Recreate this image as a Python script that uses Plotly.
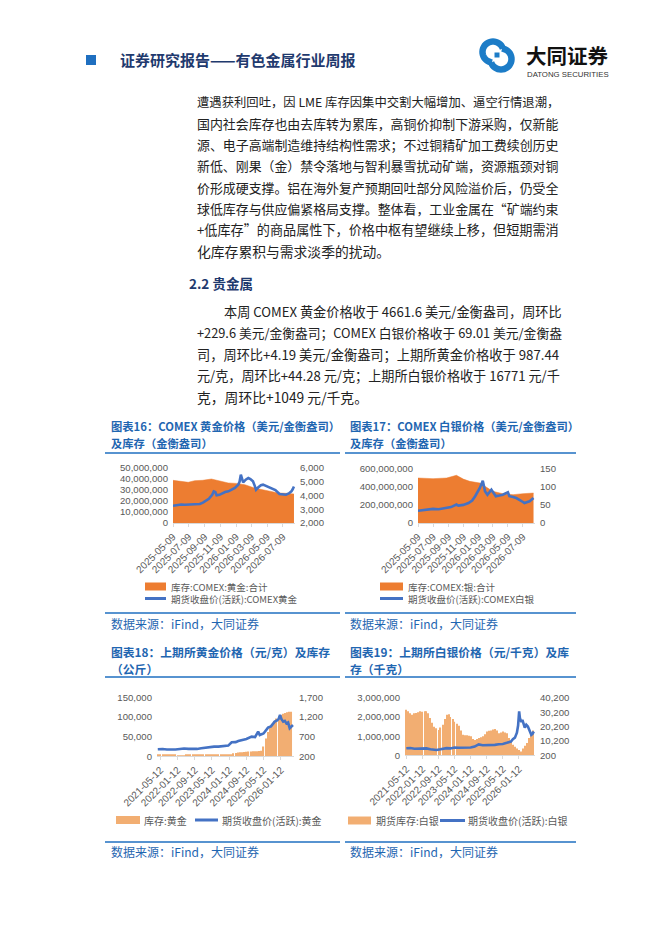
import math
import plotly.graph_objects as go

W, H = 662, 936
def X(p): return p / W
def Y(p): return 1 - p / H

ORANGE = "#ED7D31"
TAN = "#F2AE72"
BLUE = "#4472C4"
NAVY = "#1F3A6E"
TBLUE = "#1F66B1"
LBLUE = "#1F6FC0"
GRAY = "#595959"
CJK = "Noto Sans CJK SC"
LAT = "Liberation Sans"

# ---------------- data ----------------
# Chart 16: COMEX gold
c16_ticks = ["2025-05-09", "2025-07-09", "2025-09-09", "2025-11-09",
             "2026-01-09", "2026-03-09", "2026-05-09", "2026-07-09"]
c16_inv_dates = ["2025-05-09", "2025-06-05", "2025-07-07", "2025-08-01", "2025-09-01",
                 "2025-10-05", "2025-11-01", "2025-12-09", "2026-01-10", "2026-02-12",
                 "2026-03-21", "2026-04-15", "2026-05-12", "2026-06-21", "2026-07-20",
                 "2026-08-21"]
c16_inv = [38800000, 38000000, 37000000, 38500000, 38800000, 40000000, 38500000,
           36400000, 36000000, 34800000, 31800000, 30500000, 29400000, 27300000,
           27000000, 26400000]
c16_px_dates = ["2025-05-09", "2025-05-25", "2025-06-10", "2025-06-24", "2025-07-10",
                "2025-07-25", "2025-08-08", "2025-08-21", "2025-09-02", "2025-09-10",
                "2025-09-25", "2025-10-08", "2025-10-14", "2025-10-20", "2025-10-25",
                "2025-11-05", "2025-11-15", "2025-11-27", "2025-12-10", "2025-12-22",
                "2026-01-04", "2026-01-17", "2026-01-22", "2026-01-27", "2026-02-01",
                "2026-02-05", "2026-02-15", "2026-02-25", "2026-03-05", "2026-03-15",
                "2026-03-22", "2026-03-27", "2026-04-05", "2026-04-15", "2026-04-23",
                "2026-05-05", "2026-05-24", "2026-06-10", "2026-06-26", "2026-07-10",
                "2026-07-21", "2026-08-01", "2026-08-11", "2026-08-16", "2026-08-21"]
c16_px = [3250, 3320, 3350, 3330, 3340, 3370, 3400, 3380, 3480, 3580,
          3760, 4050, 4300, 4250, 4010, 4050, 4150, 4250, 4300, 4450,
          4550, 4790, 5000, 5510, 5100, 4950, 5150, 5280, 5200, 5030,
          4700, 4420, 4600, 4750, 4790, 4700, 4550, 4400, 4110, 4100,
          4060, 4150, 4300, 4450, 4660]

# Chart 17: COMEX silver
c17_ticks = c16_ticks
c17_inv_dates = ["2025-05-09", "2025-07-09", "2025-09-02", "2025-10-12", "2025-11-09",
                 "2025-12-05", "2026-01-15", "2026-02-05", "2026-03-09", "2026-04-18",
                 "2026-05-30", "2026-07-09", "2026-08-21"]
c17_inv = [497000000, 490000000, 497000000, 527000000, 485000000, 460000000, 442000000,
           405000000, 350000000, 324000000, 313000000, 324000000, 331000000]
c17_px_dates = ["2025-05-09", "2025-06-01", "2025-07-09", "2025-08-01", "2025-09-02",
                "2025-09-20", "2025-10-12", "2025-10-20", "2025-11-09", "2025-11-30",
                "2025-12-15", "2025-12-27", "2026-01-15", "2026-01-27", "2026-02-05",
                "2026-02-15", "2026-03-03", "2026-03-09", "2026-03-21", "2026-04-05",
                "2026-04-18", "2026-05-09", "2026-05-15", "2026-05-30", "2026-06-12",
                "2026-07-09", "2026-07-15", "2026-08-05", "2026-08-21"]
c17_px = [34, 36, 39, 38, 41, 44, 51, 48, 50, 55, 62, 74, 97, 117, 88,
          78, 92, 85, 74, 76, 78, 85, 74, 72, 69, 58, 55, 60, 69]

# Chart 18: SHFE gold (monthly inventory from 2021-04)
c18_ticks = ["2021-05-12", "2022-01-12", "2022-09-12", "2023-05-12",
             "2024-01-12", "2024-09-12", "2025-05-12", "2026-01-12"]
c18_months = [f"{2021 + (3 + i) // 12}-{(3 + i) % 12 + 1:02d}-12" for i in range(64)]
c18_inv = [3000, 3100, 3200, 3300, 3000, 2900, 2800, 2700, 2600, 2500, 2400, 2400,
           2500, 2600, 2700, 2800, 2900, 3000, 3000, 2900, 2800, 2700, 2600, 2700,
           2800, 2900, 3000, 3100, 3200, 3100, 3000, 2900, 2800, 2900, 3000,
           7600, 8500, 9500, 10000, 10500, 11000, 11500, 12000, 12500, 12700, 12700,
           13000, 13500, 14000,
           25000, 45000, 62000, 72000, 82000, 90000, 96000, 101000, 105000, 108000,
           110000, 112000, 113000, 113500]
c18_px_dates = ["2021-04-05", "2021-06-12", "2021-08-12", "2021-10-12", "2021-12-12",
                "2022-02-12", "2022-04-12", "2022-06-12", "2022-08-12", "2022-10-12",
                "2022-12-12", "2023-02-12", "2023-04-12", "2023-06-12", "2023-08-12",
                "2023-10-12", "2023-12-30", "2024-02-15", "2024-04-12", "2024-05-20",
                "2024-07-05", "2024-09-12", "2024-11-25", "2025-01-12", "2025-02-25",
                "2025-03-20", "2025-05-12", "2025-07-15", "2025-08-25", "2025-10-18",
                "2025-11-20", "2025-12-15", "2026-01-01", "2026-01-20", "2026-02-15",
                "2026-03-10", "2026-04-01", "2026-04-25", "2026-05-18", "2026-06-10",
                "2026-07-03"]
c18_px = [378, 385, 372, 368, 372, 385, 398, 390, 383, 388, 405, 420, 448, 445, 446,
          462, 472, 556, 560, 590, 615, 640, 700, 690, 827, 741, 780, 929, 960, 1081,
          1110, 1160, 1249, 1150, 1081, 1100, 1038, 1060, 911, 950, 995]

# Chart 19: SHFE silver (monthly inventory from 2021-05)
c19_ticks = c18_ticks
c19_months = [f"{2021 + (4 + i) // 12}-{(4 + i) % 12 + 1:02d}-12" for i in range(64)]
c19_inv = [2380000, 2300000, 2200000, 2120000, 2200000, 2220000, 2250000, 2300000,
           2280000, 2300000, 2300000, 2200000, 1950000, 1700000, 1500000, 1420000,
           1330000, 1450000, 1600000, 1900000, 2120000, 2150000, 2000000, 1900000,
           1750000, 1650000, 1550000, 1300000, 1070000, 1050000, 1050000, 1030000,
           1000000, 850000, 800000, 850000, 900000, 950000, 1000000, 1100000,
           1250000, 1280000, 1300000, 1350000, 1380000, 1300000, 1160000, 1200000,
           1250000, 1200000, 1160000, 900000, 700000, 550000, 450000, 350000,
           280000, 200000, 350000, 500000, 650000, 900000, 1100000, 1300000]
c19_px_dates = ["2021-05-12", "2021-07-12", "2021-09-12", "2021-11-12", "2022-01-12",
                "2022-03-12", "2022-05-12", "2022-07-12", "2022-08-12", "2022-10-12",
                "2022-11-12", "2023-01-12", "2023-03-12", "2023-05-12", "2023-07-12",
                "2023-09-12", "2023-11-12", "2024-01-12", "2024-03-12", "2024-04-12",
                "2024-05-12", "2024-07-12", "2024-09-12", "2024-11-12", "2025-01-12",
                "2025-03-12", "2025-05-12", "2025-07-12", "2025-08-12", "2025-09-12",
                "2025-10-12", "2025-11-12", "2025-12-12", "2025-12-30", "2026-01-15",
                "2026-01-27", "2026-02-18", "2026-03-05", "2026-04-10", "2026-05-03",
                "2026-05-27", "2026-06-20", "2026-07-18", "2026-08-05", "2026-08-25"]
c19_px = [5100, 5300, 4800, 4900, 4650, 5000, 4400, 4100, 3950, 4400, 4700, 5200,
          5000, 5600, 5500, 5500, 5700, 5600, 6300, 7400, 7800, 7200, 7200, 7600,
          7500, 7900, 8100, 8900, 9200, 9800, 11500, 12500, 16000, 21000, 30900,
          26000, 23500, 25000, 19500, 21500, 20300, 18000, 14500, 15200, 16800]

# ---------------- text ----------------
header_title = "证券研究报告——有色金属行业周报"
para1 = ["遭遇获利回吐，因 LME 库存因集中交割大幅增加、逼空行情退潮，",
         "国内社会库存也由去库转为累库，高铜价抑制下游采购，仅新能",
         "源、电子高端制造维持结构性需求；不过铜精矿加工费续创历史",
         "新低、刚果（金）禁令落地与智利暴雪扰动矿端，资源瓶颈对铜",
         "价形成硬支撑。铝在海外复产预期回吐部分风险溢价后，仍受全",
         "球低库存与供应偏紧格局支撑。整体看，工业金属在“矿端约束",
         "+低库存”的商品属性下，价格中枢有望继续上移，但短期需消",
         "化库存累积与需求淡季的扰动。"]
section = "2.2 贵金属"
para2 = ["本周 COMEX 黄金价格收于 4661.6 美元/金衡盎司，周环比",
         "+229.6 美元/金衡盎司；COMEX 白银价格收于 69.01 美元/金衡盎",
         "司，周环比+4.19 美元/金衡盎司；上期所黄金价格收于 987.44",
         "元/克，周环比+44.28 元/克；上期所白银价格收于 16771 元/千",
         "克，周环比+1049 元/千克。"]
titles = {
    "c16": ["图表16：COMEX 黄金价格（美元/金衡盎司）", "及库存（金衡盎司）"],
    "c17": ["图表17：COMEX 白银价格（美元/金衡盎司）", "及库存（金衡盎司）"],
    "c18": ["图表18：上期所黄金价格（元/克）及库存", "（公斤）"],
    "c19": ["图表19：上期所白银价格（元/千克）及库", "存（千克）"],
}
source = "数据来源：iFind，大同证券"
leg16 = ["库存:COMEX:黄金:合计", "期货收盘价(活跃):COMEX黄金"]
leg17 = ["库存:COMEX:银:合计", "期货收盘价(活跃):COMEX白银"]
leg18 = ["库存:黄金", "期货收盘价(活跃):黄金"]
leg19 = ["期货库存:白银", "期货收盘价(活跃):白银"]


def em_width(s):
    w = 0.0
    for ch in s:
        o = ord(ch)
        if o >= 0x2E80 or ch in "“”":
            w += 1.0
        elif ch.isdigit():
            w += 0.555
        elif ch.isupper():
            w += 0.63
        elif ch.islower():
            w += 0.5
        elif ch == " ":
            w += 0.224
        elif ch == ".":
            w += 0.27
        elif ch == "/":
            w += 0.36
        elif ch == "+":
            w += 0.555
        else:
            w += 0.5
    return w


# ---------------- figure ----------------
fig = go.Figure()

fig.add_trace(go.Scatter(x=c16_inv_dates, y=c16_inv, mode="lines", fill="tozeroy",
                         line=dict(color=ORANGE, width=0.5), fillcolor=ORANGE,
                         xaxis="x", yaxis="y", name=leg16[0]))
fig.add_trace(go.Scatter(x=c16_px_dates, y=c16_px, mode="lines",
                         line=dict(color=BLUE, width=2.6), xaxis="x", yaxis="y2", name=leg16[1]))
fig.add_trace(go.Scatter(x=c17_inv_dates, y=c17_inv, mode="lines", fill="tozeroy",
                         line=dict(color=ORANGE, width=0.5), fillcolor=ORANGE,
                         xaxis="x2", yaxis="y3", name=leg17[0]))
fig.add_trace(go.Scatter(x=c17_px_dates, y=c17_px, mode="lines",
                         line=dict(color=BLUE, width=2.6), xaxis="x2", yaxis="y4", name=leg17[1]))
fig.add_trace(go.Bar(x=c18_months, y=c18_inv, marker=dict(color=TAN, line=dict(width=0)),
                     xaxis="x3", yaxis="y5", name=leg18[0]))
fig.add_trace(go.Scatter(x=c18_px_dates, y=c18_px, mode="lines",
                         line=dict(color=BLUE, width=2.6), xaxis="x3", yaxis="y6", name=leg18[1]))
fig.add_trace(go.Bar(x=c19_months, y=c19_inv, marker=dict(color=TAN, line=dict(width=0)),
                     xaxis="x4", yaxis="y7", name=leg19[0]))
fig.add_trace(go.Scatter(x=c19_px_dates, y=c19_px, mode="lines",
                         line=dict(color=BLUE, width=2.6), xaxis="x4", yaxis="y8", name=leg19[1]))

TF = dict(family=LAT, size=9.6, color=GRAY)
XF = dict(family=LAT, size=10, color=GRAY)


def xax(d0, d1, rng, tv, anchor):
    return dict(domain=[X(d0), X(d1)], anchor=anchor, type="date", range=rng,
                tickmode="array", tickvals=tv, ticktext=tv, tickangle=-45,
                showgrid=False, zeroline=False, showline=True, linecolor="#D9D9D9",
                linewidth=1, ticks="outside", ticklen=3, tickcolor="#D9D9D9",
                tickfont=XF, fixedrange=True, automargin=False)


def yl(top, bot, rng, dtick, anchor, tick0=0):
    return dict(domain=[Y(bot), Y(top)], anchor=anchor, range=rng, tick0=tick0,
                dtick=dtick, tickformat=",", showgrid=False, zeroline=False,
                showline=False, ticks="", tickfont=TF, ticklabelstandoff=4,
                fixedrange=True, automargin=False)


def yr(over, rng, dtick, anchor, tick0=0):
    return dict(overlaying=over, side="right", anchor=anchor, range=rng, tick0=tick0,
                dtick=dtick, tickformat=",", showgrid=False, zeroline=False,
                showline=False, ticks="", tickfont=TF, ticklabelstandoff=4,
                fixedrange=True, automargin=False)


layout = dict(
    width=W, height=H, autosize=False,
    margin=dict(l=0, r=0, t=0, b=0, pad=0, autoexpand=False),
    paper_bgcolor="white", plot_bgcolor="rgba(0,0,0,0)",
    showlegend=False, bargap=0.42,
    font=dict(family=CJK, color="#222"),
    xaxis=xax(165, 287, ["2025-05-09", "2026-08-25"], c16_ticks, "y"),
    yaxis=yl(460, 515, [0, 50000000], 10000000, "x"),
    yaxis2=yr("y", [2000, 6000], 1000, "x", 2000),
    xaxis2=xax(410, 527, ["2025-05-09", "2026-08-27"], c17_ticks, "y3"),
    yaxis3=yl(460.7, 515, [0, 600000000], 200000000, "x2"),
    yaxis4=yr("y3", [0, 150], 50, "x2"),
    xaxis3=xax(149, 286, ["2021-03-25", "2026-07-18"], c18_ticks, "y5"),
    yaxis5=yl(689.3, 748.3, [0, 150000], 50000, "x3"),
    yaxis6=yr("y5", [200, 1700], 500, "x3", 200),
    xaxis4=xax(397, 527, ["2021-04-22", "2026-09-12"], c19_ticks, "y7"),
    yaxis7=yl(690, 747.3, [0, 3000000], 1000000, "x4"),
    yaxis8=yr("y7", [200, 40200], 10000, "x4", 200),
)

ann = []
shapes = []


def txt(x, y, s, size, color, family=CJK, bold=False, xanchor="left"):
    ann.append(dict(x=X(x), y=Y(y), xref="paper", yref="paper", text=s, showarrow=False,
                    xanchor=xanchor, yanchor="middle", borderpad=0,
                    font=dict(family=family, size=size, color=color,
                              weight="bold" if bold else "normal")))


def rect(x0, y0, x1, y1, color):
    shapes.append(dict(type="rect", xref="paper", yref="paper", x0=X(x0), x1=X(x1),
                       y0=Y(y1), y1=Y(y0), fillcolor=color, line=dict(width=0)))


def hline(x0, x1, y, color, w):
    shapes.append(dict(type="line", xref="paper", yref="paper", x0=X(x0), x1=X(x1),
                       y0=Y(y), y1=Y(y), line=dict(color=color, width=w)))


def arc_path(cx, cy, r, a0, a1, n=28):
    pts = []
    for i in range(n + 1):
        a = math.radians(a0 + (a1 - a0) * i / n)
        pts.append((X(cx + r * math.cos(a)), Y(cy - r * math.sin(a))))
    return "M " + " L ".join(f"{p[0]:.5f},{p[1]:.5f}" for p in pts)


# header
rect(78, 47, 88, 57, LBLUE)
txt(111, 51.5, header_title, 15, NAVY, bold=True)
LOGO = "#1C7CC7"
shapes.append(dict(type="path", xref="paper", yref="paper", path=arc_path(485, 44, 10.5, 20, 265),
                   line=dict(color=LOGO, width=6.5), fillcolor="rgba(0,0,0,0)"))
shapes.append(dict(type="path", xref="paper", yref="paper", path=arc_path(493, 51, 10.5, 200, 445),
                   line=dict(color=LOGO, width=6.5), fillcolor="rgba(0,0,0,0)"))
rect(486.5, 44.5, 491.5, 49.5, LOGO)
txt(517, 46.5, "大同证券", 20.5, "#111", bold=True)
txt(518, 66.5, "DATONG SECURITIES", 7.8, "#333", family="Liberation Sans")

# body text
LH = 21.3


def para(lines, y0, starts, end, last_natural=True):
    for i, s in enumerate(lines):
        x0 = starts[i]
        em = em_width(s)
        if last_natural and i == len(lines) - 1:
            size = 13.8
        else:
            size = max(11.5, min(14.2, (end - x0) / em))
        txt(x0, y0 + i * LH, s, size, "#222")


para(para1, 94, [188] * len(para1), 550)
txt(180, 274.5, section, 13.5, NAVY, bold=True)
para(para2, 303.5, [215] + [188] * (len(para2) - 1), 550)

# chart frames, titles, sources
for key, x0, xl0, xl1, ty, ltop, lbot, sy, size in [
        ("c16", 102, 97, 332, 418.3, 445, 605, 615, 11.3),
        ("c17", 340.5, 337, 568, 418.3, 445, 605, 615, 11.3),
        ("c18", 102, 97, 332, 643, 669, 834, 843.5, 11.8),
        ("c19", 340.5, 337, 568, 643, 669, 834, 843.5, 11.8)]:
    txt(x0, ty, titles[key][0], size, TBLUE, bold=True)
    txt(x0, ty + 17, titles[key][1], size, TBLUE, bold=True)
    hline(xl0, xl1, ltop, LBLUE, 1.6)
    hline(xl0, xl1, lbot, LBLUE, 1.6)
    txt(x0, sy, source, 12, TBLUE)

# legends (two-row legends drawn as one text block each)
LF = 9.5
rect(137, 574.5, 158, 582.5, ORANGE)
hline(137, 158, 590.5, BLUE, 3)
ann.append(dict(x=X(162), y=Y(584.5), xref="paper", yref="paper",
                text=leg16[0] + "<br>" + leg16[1], showarrow=False, align="left",
                xanchor="left", yanchor="middle", borderpad=0,
                font=dict(family=CJK, size=LF, color=GRAY)))

rect(372, 574.5, 395, 582.5, ORANGE)
hline(372, 395, 590.5, BLUE, 3)
ann.append(dict(x=X(399), y=Y(584.5), xref="paper", yref="paper",
                text=leg17[0] + "<br>" + leg17[1], showarrow=False, align="left",
                xanchor="left", yanchor="middle", borderpad=0,
                font=dict(family=CJK, size=LF, color=GRAY)))

rect(108, 808, 132, 816, TAN)
txt(135, 812, leg18[0], 10, GRAY)
hline(187, 210, 812, BLUE, 3)
txt(213, 812, leg18[1], 10, GRAY)

rect(340, 808.5, 363, 816.5, TAN)
txt(367, 812.5, leg19[0], 10, GRAY)
hline(432, 457, 812.5, BLUE, 3)
txt(459, 812.5, leg19[1], 10, GRAY)

layout["annotations"] = ann
layout["shapes"] = shapes
fig.update_layout(**layout)
fig.write_html("out.html")
